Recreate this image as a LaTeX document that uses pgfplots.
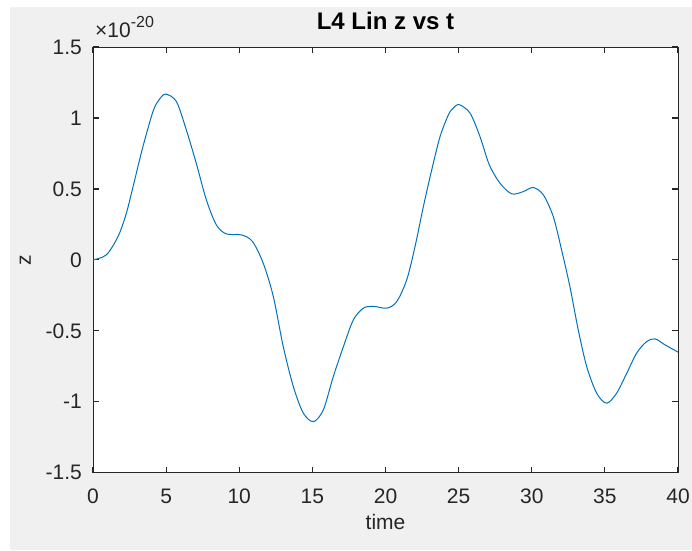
\documentclass[border=0pt]{standalone}
\usepackage{pgfplots}
\pgfplotsset{compat=1.18}
\usepackage{fontspec}
\setmainfont{Liberation Sans}
\definecolor{figbg}{RGB}{240,240,240}
\definecolor{axgray}{RGB}{38,38,38}
\definecolor{mblue}{RGB}{0,114,189}
\begin{document}
\begin{tikzpicture}
\useasboundingbox (0pt,0pt) rectangle (692pt,550pt);
\fill[white] (0pt,0pt) rectangle (692pt,550pt);
\fill[figbg] (10pt,0pt) rectangle (692pt,543pt);
\fill[white] (93pt,77.3pt) rectangle (678pt,503pt);
\begin{axis}[
  name=ax,
  at={(93pt,77.3pt)}, anchor=south west,
  scale only axis, width=585pt, height=425.7pt,
  xmin=0, xmax=40, ymin=-1.5, ymax=1.5,
  xtick={0,5,...,40},
  ytick={-1.5,-1,-0.5,0,0.5,1,1.5},
  yticklabels={-1.5,-1,-0.5,0,0.5,1,1.5},
  tick align=inside,
  major tick length=6pt,
  every tick/.style={draw=axgray, line width=1.2pt},
  axis line style={axgray, line width=1pt},
  /pgf/number format/assume math mode=true,
  tick label style={font=\fontsize{21}{21}\selectfont, text=axgray, inner sep=0pt},
  xticklabel style={anchor=north, yshift=-16pt},
  yticklabel style={anchor=east, xshift=-11pt},
  xlabel={time},
  ylabel={z},
  label style={font=\fontsize{21}{21}\selectfont, text=axgray},
  xlabel style={at={(axis description cs:0.5,-0.1339)}, anchor=base, inner sep=0pt},
  ylabel style={at={(axis description cs:-0.106,0.5)}, anchor=base, inner sep=0pt},
  title={L4 Lin z vs t},
  title style={at={(axis description cs:0.5,1)}, anchor=base, yshift=12pt, font=\fontsize{24}{24}\selectfont\bfseries, inner sep=0pt},
]
% z values in units of 1e-20
\addplot[mblue, line width=1pt, smooth, tension=0.5] table {
t z
0 0
0.91 0.035
1.71 0.164
2.28 0.328
2.85 0.563
3.42 0.80
4.1 1.045
4.5 1.125
4.95 1.168
5.7 1.116
6.38 0.916
7.06 0.681
7.75 0.423
8.43 0.247
9.11 0.183
10.14 0.176
10.9 0.13
11.64 -0.024
12.33 -0.259
13.01 -0.612
13.7 -0.894
14.38 -1.08
15.07 -1.14
15.75 -1.057
16.43 -0.823
17.12 -0.612
17.8 -0.423
18.48 -0.341
19.17 -0.327
20.08 -0.341
20.77 -0.294
21.45 -0.141
22.02 0.094
22.59 0.376
23.16 0.634
23.73 0.869
24.3 1.022
24.6 1.066
25.03 1.094
25.78 1.034
26.46 0.869
27.1 0.669
27.83 0.54
28.63 0.465
29.42 0.481
30.1 0.51
30.79 0.458
31.47 0.305
32.04 0.07
32.61 -0.189
33.18 -0.494
33.76 -0.753
34.44 -0.94
35.12 -1.01
35.8 -0.94
36.49 -0.80
37.17 -0.658
37.85 -0.576
38.43 -0.557
39.11 -0.599
40 -0.65
};
\end{axis}
\node[anchor=base west, inner sep=0pt, text=axgray, font=\fontsize{21}{21}\selectfont]
  at ([xshift=2pt, yshift=10pt]ax.north west) {×10\raisebox{10pt}{\fontsize{16}{16}\selectfont -20}};
\end{tikzpicture}
\end{document}
